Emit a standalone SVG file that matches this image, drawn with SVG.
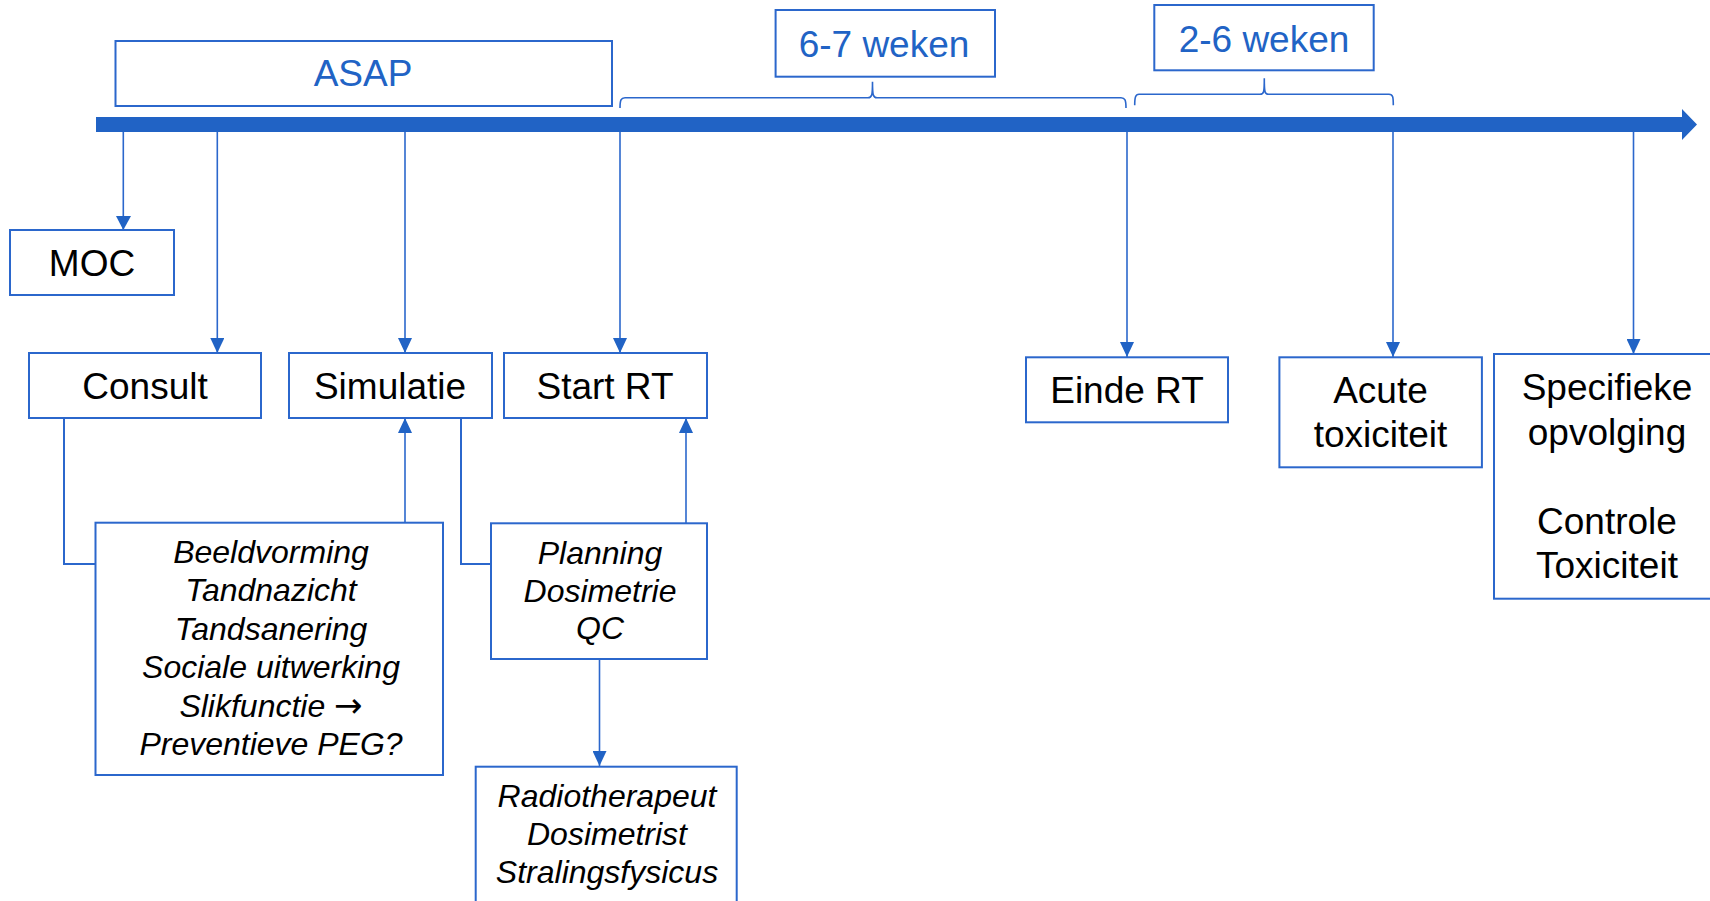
<svg xmlns="http://www.w3.org/2000/svg" width="1710" height="901" viewBox="0 0 1710 901">
<defs>
<style>
.box{fill:#ffffff;stroke:#2B67CC;stroke-width:2}
.lbl{font-family:"Liberation Sans",Arial,sans-serif;font-size:37px;fill:#000000;text-anchor:middle}
.blue{fill:#2163C5}
.it{font-family:"Liberation Sans",Arial,sans-serif;font-size:32px;font-style:italic;fill:#000000;text-anchor:middle}
.arr{font-family:"Noto Sans","DejaVu Sans",sans-serif;font-style:normal;font-size:34px}
.conn{fill:none;stroke:#2B67CC;stroke-width:1.6}
.conn2{fill:none;stroke:#2B67CC;stroke-width:2}
.brace{fill:none;stroke:#2B67CC;stroke-width:1.6}
</style>
<marker id="ah" viewBox="0 0 15 14" refX="15" refY="7" markerWidth="15" markerHeight="14" markerUnits="userSpaceOnUse" orient="auto">
<path d="M0,0 L15,7 L0,14 z" fill="#2163C5"/>
</marker>
</defs>
<rect width="1710" height="901" fill="#ffffff"/>

<g id="timeline">
<path d="M96,117 L1682,117 L1682,109 L1697,124.5 L1682,140 L1682,132 L96,132 z" fill="#2163C5"/>
</g>

<g id="connectors">
<line class="conn" x1="123.3" y1="132" x2="123.3" y2="230"/>
<line class="conn" x1="217.3" y1="132" x2="217.3" y2="353" marker-end="url(#ah)"/>
<line class="conn" x1="405" y1="132" x2="405" y2="353" marker-end="url(#ah)"/>
<line class="conn" x1="620" y1="132" x2="620" y2="353" marker-end="url(#ah)"/>
<line class="conn" x1="1127" y1="132" x2="1127" y2="357" marker-end="url(#ah)"/>
<line class="conn" x1="1393" y1="132" x2="1393" y2="357" marker-end="url(#ah)"/>
<line class="conn" x1="1633.5" y1="132" x2="1633.5" y2="354" marker-end="url(#ah)"/>
<polyline class="conn2" points="64,418 64,564 95.5,564"/>
<line class="conn" x1="405" y1="522.7" x2="405" y2="418" marker-end="url(#ah)"/>
<polyline class="conn2" points="461,418 461,564 491,564"/>
<line class="conn" x1="686" y1="523" x2="686" y2="418" marker-end="url(#ah)"/>
<line class="conn" x1="599.5" y1="659" x2="599.5" y2="766" marker-end="url(#ah)"/>
<path class="brace" d="M620,108 C620,100 621,97.7 625,97.7 L868,97.7 C872,97.7 872.5,95 872.5,81.7 C872.5,95 873,97.7 877,97.7 L1121,97.7 C1125,97.7 1126,100 1126,108"/>
<path class="brace" d="M1134.7,105.3 C1134.7,97 1135.5,94.3 1139,94.3 L1260,94.3 C1264,94.3 1264.3,92 1264.3,78.3 C1264.3,92 1264.7,94.3 1268.5,94.3 L1389,94.3 C1393,94.3 1393.3,97 1393.3,105.3"/>
<path d="M116,216 L131,216 L123.3,230 z" fill="#2163C5"/>
</g>

<g id="asap">
<rect class="box" x="115.5" y="41" width="496.5" height="65"/>
<text class="lbl blue" x="363" y="86">ASAP</text>
</g>

<g id="weken67">
<rect class="box" x="775.6" y="10" width="219.4" height="66.7"/>
<text class="lbl blue" x="884" y="57.3">6-7 weken</text>
</g>

<g id="weken26">
<rect class="box" x="1154.3" y="5" width="219.4" height="65.3"/>
<text class="lbl blue" x="1264" y="51.7">2-6 weken</text>
</g>

<g id="moc">
<rect class="box" x="10" y="230" width="164" height="65"/>
<text class="lbl" x="92" y="276">MOC</text>
</g>

<g id="consult">
<rect class="box" x="29" y="353" width="232" height="65"/>
<text class="lbl" x="145" y="399">Consult</text>
</g>

<g id="simulatie">
<rect class="box" x="289" y="353" width="203" height="65"/>
<text class="lbl" x="390" y="399">Simulatie</text>
</g>

<g id="startrt">
<rect class="box" x="504" y="353" width="203" height="65"/>
<text class="lbl" x="605" y="399">Start RT</text>
</g>

<g id="eindert">
<rect class="box" x="1026" y="357.3" width="202" height="65"/>
<text class="lbl" x="1127" y="402.7">Einde RT</text>
</g>

<g id="acute">
<rect class="box" x="1279.4" y="357.3" width="202.5" height="110"/>
<text class="lbl" x="1380.5" y="402.7">Acute</text>
<text class="lbl" x="1380.5" y="447.3">toxiciteit</text>
</g>

<g id="specifieke">
<rect class="box" x="1494" y="354" width="230" height="244.7"/>
<text class="lbl" x="1607" y="400">Specifieke</text>
<text class="lbl" x="1607" y="444.5">opvolging</text>
<text class="lbl" x="1607" y="533.5">Controle</text>
<text class="lbl" x="1607" y="578">Toxiciteit</text>
</g>

<g id="beeldvorming">
<rect class="box" x="95.5" y="522.7" width="347.5" height="252.3"/>
<text class="it" x="271" y="562.7">Beeldvorming</text>
<text class="it" x="271" y="601.2">Tandnazicht</text>
<text class="it" x="271" y="639.7">Tandsanering</text>
<text class="it" x="271" y="678.2">Sociale uitwerking</text>
<text class="it" x="271" y="716.7">Slikfunctie <tspan class="arr">→</tspan></text>
<text class="it" x="271" y="755.2">Preventieve PEG?</text>
</g>

<g id="planning">
<rect class="box" x="491" y="523.3" width="216" height="135.7"/>
<text class="it" x="600" y="564">Planning</text>
<text class="it" x="600" y="601.7">Dosimetrie</text>
<text class="it" x="600" y="639.3">QC</text>
</g>

<g id="radiotherapeut">
<rect class="box" x="475.7" y="766.7" width="261" height="145"/>
<text class="it" x="607" y="807.3">Radiotherapeut</text>
<text class="it" x="607" y="845">Dosimetrist</text>
<text class="it" x="607" y="882.7">Stralingsfysicus</text>
</g>
</svg>
